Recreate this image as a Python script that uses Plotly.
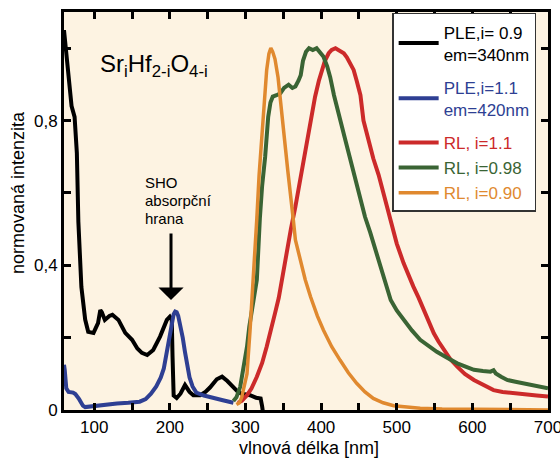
import plotly.graph_objects as go

# ---------------- data ----------------
ple09_x = [60, 63, 66, 70, 74, 77, 79, 83, 88, 92, 99, 105, 108, 110, 114, 120, 124, 132, 141, 150,
           157, 163, 170, 178, 187, 196, 200, 202.5, 203.5, 205, 209, 214, 220, 226, 231, 240, 247,
           253, 262, 269, 276, 284, 290, 295, 306, 314, 320, 322, 324]
ple09_y = [1.05, 0.99, 0.91, 0.84, 0.81, 0.71, 0.52, 0.34, 0.25, 0.216, 0.213, 0.24, 0.276, 0.27,
           0.249, 0.26, 0.263, 0.249, 0.213, 0.194, 0.17, 0.158, 0.152, 0.166, 0.203, 0.249, 0.258,
           0.25, 0.15, 0.04, 0.033, 0.045, 0.069, 0.05, 0.041, 0.041, 0.05, 0.062, 0.085, 0.092,
           0.08, 0.064, 0.05, 0.045, 0.041, 0.034, 0.032, 0.01, -0.02]

ple11_x = [60, 61, 63, 66, 72, 75, 80, 85, 88, 95, 103, 115, 130, 145, 160, 168, 175, 182, 188, 192,
           196, 199, 202, 205, 207, 209, 211, 214, 217, 220, 223, 226, 230, 235, 245, 258, 270, 284]
ple11_y = [0.125, 0.11, 0.06, 0.05, 0.048, 0.044, 0.03, 0.012, 0.008, 0.01, 0.013, 0.015, 0.018,
           0.02, 0.023, 0.03, 0.045, 0.065, 0.09, 0.115, 0.16, 0.2, 0.24, 0.265, 0.272, 0.27, 0.26,
           0.235, 0.2, 0.16, 0.12, 0.09, 0.065, 0.048, 0.04, 0.032, 0.027, 0.02]

rl11_x = [290, 295, 302, 308, 315, 322, 328, 334, 339, 344, 348, 354, 360, 366, 370, 375, 379, 383,
          388, 392, 397, 401, 405, 410, 414, 419, 424, 430, 434, 438, 443, 447, 452, 456, 462, 469,
          476, 482, 488, 494, 500, 509, 515, 522, 529, 536, 542, 549, 555, 562, 571, 580, 590, 602,
          615, 628, 640, 655, 670, 685, 700]
rl11_y = [0.02, 0.025, 0.041, 0.06, 0.092, 0.13, 0.175, 0.22, 0.267, 0.31, 0.359, 0.43, 0.5, 0.562,
          0.61, 0.664, 0.72, 0.774, 0.82, 0.866, 0.91, 0.94, 0.965, 0.986, 0.995, 1.0, 0.995, 0.986,
          0.975, 0.96, 0.94, 0.91, 0.87, 0.8, 0.75, 0.695, 0.65, 0.6, 0.55, 0.5, 0.46, 0.406, 0.375,
          0.341, 0.31, 0.276, 0.245, 0.212, 0.19, 0.166, 0.14, 0.12, 0.1, 0.083, 0.068, 0.055, 0.05,
          0.046, 0.042, 0.04, 0.037]

rl098_x = [284, 288, 293, 298, 302, 305, 308, 312, 315, 319, 322, 326, 330, 333, 336, 341, 346, 351,
           357, 362, 366, 370, 373, 376, 380, 384, 389, 394, 398, 403, 408, 412, 417, 421, 426, 432,
           441, 446, 452, 458, 465, 472, 478, 485, 492, 500, 509, 520, 531, 542, 553, 566, 580, 591,
           602, 614, 624, 628, 631, 638, 646, 657, 668, 680, 690, 700]
rl098_y = [0.025, 0.035, 0.064, 0.12, 0.175, 0.23, 0.267, 0.32, 0.36, 0.53, 0.62, 0.7, 0.81, 0.85,
           0.866, 0.87, 0.875, 0.89, 0.899, 0.89, 0.894, 0.91, 0.925, 0.965, 0.99, 1.0, 0.995, 1.0,
           0.99, 0.977, 0.95, 0.92, 0.87, 0.839, 0.8, 0.746, 0.673, 0.63, 0.59, 0.534, 0.49, 0.44,
           0.401, 0.35, 0.304, 0.275, 0.249, 0.22, 0.194, 0.176, 0.161, 0.145, 0.129, 0.12, 0.111,
           0.108, 0.106, 0.11, 0.101, 0.092, 0.083, 0.078, 0.074, 0.068, 0.064, 0.06]

rl090_x = [288, 292, 295, 299, 302, 306, 310, 315, 318, 322, 325, 328, 331, 333.5, 336, 339, 343,
           346, 350, 353, 356, 359, 363, 366, 372, 379, 386, 395, 403, 414, 425, 436, 447, 458, 469,
           482, 496, 515, 531, 560, 600, 650, 700]
rl090_y = [0.015, 0.02, 0.035, 0.07, 0.1, 0.22, 0.35, 0.53, 0.65, 0.77, 0.87, 0.94, 0.985, 1.0,
           0.99, 0.97, 0.92, 0.866, 0.78, 0.72, 0.66, 0.61, 0.53, 0.47, 0.415, 0.36, 0.313, 0.26,
           0.221, 0.175, 0.138, 0.103, 0.074, 0.05, 0.032, 0.02, 0.012, 0.007, 0.005, 0.003, 0.002,
           0.001, 0.0]

x_tickvals = list(range(100, 701, 50))
x_ticktext = [str(v) if v % 100 == 0 else "" for v in x_tickvals]
y_tickvals = [0, 0.2, 0.4, 0.6, 0.8, 1.0]
y_ticktext = ["0", "", "0,4", "", "0,8", ""]

BLACK = "#000000"
BLUE = "#2E3F93"
RED = "#CC2A2A"
GREEN = "#3A6434"
ORANGE = "#E0892F"
FONT = "Liberation Sans, Arial, sans-serif"


def lbl(lines, color):
    return "<br>".join(f"<span style='color:{color}'>{t}</span>" for t in lines)


series = [
    (ple09_x, ple09_y, BLACK, 4, ["PLE,i= 0.9", "em=340nm"], "g1"),
    (ple11_x, ple11_y, BLUE, 4, ["PLE,i=1.1", "em=420nm"], "g2"),
    (rl11_x, rl11_y, RED, 4, ["RL, i=1.1"], "g3"),
    (rl098_x, rl098_y, GREEN, 4, ["RL, i=0.98"], "g3"),
    (rl090_x, rl090_y, ORANGE, 3.5, ["RL, i=0.90"], "g3"),
]

fig = go.Figure()
for xs, ys, col, w, name, grp in series:
    fig.add_trace(go.Scatter(x=xs, y=ys, mode="lines", line=dict(color=col, width=w),
                             name=lbl(name, col), legendgroup=grp))

axis_common = dict(showline=True, linewidth=3, linecolor="black", mirror="ticks",
                   ticks="inside", ticklen=7, tickwidth=2.5, tickcolor="black",
                   showgrid=False, zeroline=False, automargin=False,
                   ticklabeloverflow="allow",
                   tickfont=dict(family=FONT, size=17, color="black"))

fig.update_xaxes(range=[60, 700], tickmode="array", tickvals=x_tickvals, ticktext=x_ticktext,
                 **axis_common)
fig.update_yaxes(range=[0, 1.1], tickmode="array", tickvals=y_tickvals, ticktext=y_ticktext,
                 **axis_common)

sho_lines = ["SHO", "absorpční", "hrana"]
sho_y = [0.630, 0.580, 0.530]

annotations = [
    dict(x=179, y=0.951, xref="x", yref="y", showarrow=False,
         text="Sr<sub>i</sub>Hf<sub>2-i</sub>O<sub>4-i</sub>",
         font=dict(family=FONT, size=24, color="black")),
    dict(x=201.5, y=0.304, xref="x", yref="y", showarrow=True, ax=0, ay=-68, text="",
         arrowhead=1, arrowsize=1.4, arrowwidth=3, arrowcolor="black"),
    dict(x=-0.095, y=0.545, xref="paper", yref="paper", showarrow=False, textangle=-90,
         xanchor="center", yanchor="middle",
         text="normovaná intenzita", font=dict(family=FONT, size=18, color="black")),
    dict(x=0.506, y=-0.0955, xref="paper", yref="paper", showarrow=False,
         xanchor="center", yanchor="middle",
         text="vlnová délka [nm]", font=dict(family=FONT, size=18, color="black")),
]
for t, yy in zip(sho_lines, sho_y):
    annotations.append(dict(x=164.6, y=yy, xref="x", yref="y", showarrow=False,
                            xanchor="left", yanchor="middle", text=t,
                            font=dict(family=FONT, size=15, color="black")))

fig.update_layout(
    width=560, height=459,
    margin=dict(l=64, r=12, t=12, b=49, autoexpand=False),
    paper_bgcolor="white",
    plot_bgcolor="#FDF3E2",
    font=dict(family=FONT, size=17, color="black"),
    showlegend=True,
    legend=dict(x=0.678, y=0.9975, xanchor="left", yanchor="top", bgcolor="white",
                bordercolor="#333333", borderwidth=1.5, itemwidth=40,
                traceorder="grouped", tracegroupgap=8,
                font=dict(family=FONT, size=17)),
    annotations=annotations,
)

fig.write_html("out.html",
               config={"displayModeBar": False},
               post_script="document.body.style.margin='0px';"
                           "document.documentElement.style.overflow='hidden';"
                           "document.body.style.overflow='hidden';")
